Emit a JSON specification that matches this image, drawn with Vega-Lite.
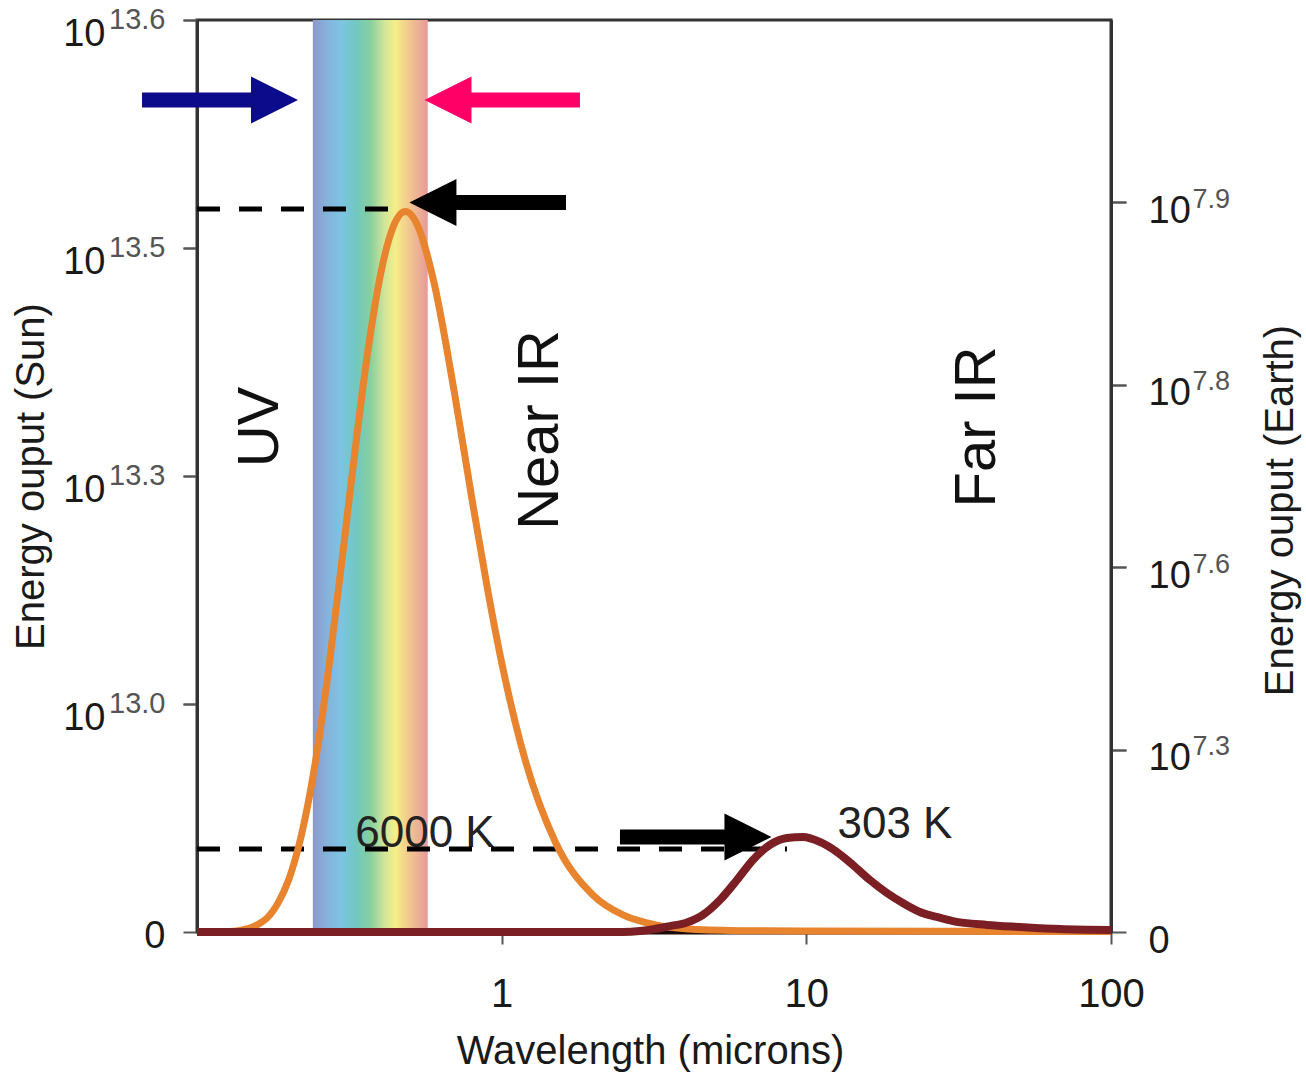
{
  "$schema": "https://vega.github.io/schema/vega-lite/v6.json",
  "width": 914,
  "height": 912,
  "autosize": {"type": "none"},
  "padding": {"left": 197, "top": 20, "right": 195, "bottom": 141},
  "background": "white",
  "config": {
    "font": "Liberation Sans",
    "view": {"stroke": "#333333", "strokeWidth": 3},
    "axis": {"grid": false, "labelFont": "Liberation Sans", "titleFont": "Liberation Sans", "titleFontWeight": "normal", "domainColor": "#333333", "domainWidth": 3, "tickColor": "#555555", "tickWidth": 2, "labelColor": "#1a1a1a", "titleColor": "#1a1a1a"}
  },
  "datasets": {
    "band": [{"name": "visible", "start": 0.24, "end": 0.572}],
    "sun": [
      {"wl": 0.1, "e": 0}, {"wl": 0.12, "e": 0.001}, {"wl": 0.135, "e": 0.005}, {"wl": 0.15, "e": 0.018},
      {"wl": 0.16, "e": 0.036}, {"wl": 0.17, "e": 0.062}, {"wl": 0.185, "e": 0.13}, {"wl": 0.2, "e": 0.229},
      {"wl": 0.22, "e": 0.423}, {"wl": 0.235, "e": 0.61}, {"wl": 0.25, "e": 0.826}, {"wl": 0.27, "e": 1.146},
      {"wl": 0.3, "e": 1.646}, {"wl": 0.33, "e": 2.109}, {"wl": 0.35, "e": 2.385}, {"wl": 0.38, "e": 2.714},
      {"wl": 0.4, "e": 2.882}, {"wl": 0.44, "e": 3.091}, {"wl": 0.483, "e": 3.16}, {"wl": 0.53, "e": 3.099},
      {"wl": 0.6, "e": 2.847}, {"wl": 0.7, "e": 2.364}, {"wl": 0.8, "e": 1.894}, {"wl": 0.9, "e": 1.499},
      {"wl": 1.0, "e": 1.182}, {"wl": 1.2, "e": 0.745}, {"wl": 1.5, "e": 0.395}, {"wl": 2.0, "e": 0.16},
      {"wl": 2.5, "e": 0.075}, {"wl": 3.0, "e": 0.04}, {"wl": 4.0, "e": 0.014}, {"wl": 6.0, "e": 0.006},
      {"wl": 10, "e": 0.004}, {"wl": 30, "e": 0.003}, {"wl": 100, "e": 0.002}
    ],
    "earth": [
      {"wl": 0.1, "e": 0}, {"wl": 1.0, "e": 0}, {"wl": 2.5, "e": 0}, {"wl": 2.844, "e": 0.004},
      {"wl": 3.185, "e": 0.013}, {"wl": 3.567, "e": 0.026}, {"wl": 4.056, "e": 0.042}, {"wl": 4.577, "e": 0.075},
      {"wl": 5.204, "e": 0.14}, {"wl": 5.918, "e": 0.228}, {"wl": 6.678, "e": 0.316}, {"wl": 7.594, "e": 0.382},
      {"wl": 8.637, "e": 0.412}, {"wl": 9.745, "e": 0.417}, {"wl": 11.08, "e": 0.395}, {"wl": 12.6, "e": 0.351},
      {"wl": 14.22, "e": 0.294}, {"wl": 16.17, "e": 0.228}, {"wl": 18.39, "e": 0.171}, {"wl": 20.75, "e": 0.127},
      {"wl": 23.59, "e": 0.088}, {"wl": 26.83, "e": 0.066}, {"wl": 30.28, "e": 0.048}, {"wl": 39.15, "e": 0.031},
      {"wl": 50.2, "e": 0.022}, {"wl": 68, "e": 0.013}, {"wl": 100, "e": 0.009}
    ],
    "dashes": [
      {"name": "sun peak", "x1": 0.1, "x2": 0.4817, "y": 3.171},
      {"name": "earth peak", "x1": 0.1, "x2": 8.637, "y": 0.364}
    ],
    "shafts": [
      {"marker": "blue", "x1": 0.066, "x2": 0.1516, "y": 3.649},
      {"marker": "pink", "x1": 0.787, "x2": 1.807, "y": 3.649},
      {"marker": "black", "x1": 0.7026, "x2": 1.626, "y": 3.2},
      {"marker": "black", "x1": 2.445, "x2": 5.446, "y": 0.417}
    ],
    "heads": [
      {"marker": "blue", "dir": "right", "x": 0.1796, "y": 3.649},
      {"marker": "pink", "dir": "left", "x": 0.6665, "y": 3.649},
      {"marker": "black", "dir": "left", "x": 0.5949, "y": 3.2},
      {"marker": "black", "dir": "right", "x": 6.433, "y": 0.417}
    ],
    "regions": [
      {"label": "UV", "x": 0.1844, "y": 2.215},
      {"label": "Near IR", "x": 1.531, "y": 2.202},
      {"label": "Far IR", "x": 41.6, "y": 2.215}
    ],
    "temps": [
      {"label": "6000 K", "x": 0.56, "y": 0.373},
      {"label": "303 K", "x": 19.54, "y": 0.412}
    ],
    "axisref": [{"v": 0}, {"v": 4}],
    "xref": [{"w": 1}, {"w": 100}]
  },
  "layer": [
    {
      "data": {"name": "band"},
      "mark": {"type": "rect", "color": {"gradient": "linear", "x1": 0, "y1": 0, "x2": 1, "y2": 0, "stops": [
        {"offset": 0, "color": "#8d97c9"}, {"offset": 0.12, "color": "#86b2dc"}, {"offset": 0.25, "color": "#7cc4e2"},
        {"offset": 0.38, "color": "#70c8c0"}, {"offset": 0.5, "color": "#86cf9e"}, {"offset": 0.62, "color": "#cfe59a"},
        {"offset": 0.72, "color": "#f6ee88"}, {"offset": 0.86, "color": "#f0c090"}, {"offset": 1, "color": "#e79a9a"}]}},
      "encoding": {
        "x": {"field": "start", "type": "quantitative", "scale": {"type": "log", "domain": [0.1, 100]}, "axis": null},
        "x2": {"field": "end"}
      }
    },
    {
      "data": {"name": "temps"},
      "mark": {"type": "text", "fontSize": 44, "color": "#222222", "align": "center", "baseline": "alphabetic"},
      "encoding": {
        "x": {"field": "x", "type": "quantitative", "axis": null},
        "y": {"field": "y", "type": "quantitative", "axis": null},
        "text": {"field": "label"}
      }
    },
    {
      "data": {"name": "dashes"},
      "mark": {"type": "rule", "color": "#000000", "strokeWidth": 5, "strokeDash": [23, 19]},
      "encoding": {
        "x": {"field": "x1", "type": "quantitative", "axis": null},
        "x2": {"field": "x2"},
        "y": {"field": "y", "type": "quantitative", "axis": null}
      }
    },
    {
      "data": {"name": "sun"},
      "mark": {"type": "line", "color": "#e8832e", "strokeWidth": 7, "interpolate": "monotone"},
      "encoding": {
        "x": {"field": "wl", "type": "quantitative", "axis": null},
        "y": {"field": "e", "type": "quantitative", "axis": null}
      }
    },
    {
      "data": {"name": "earth"},
      "mark": {"type": "line", "color": "#7b1f24", "strokeWidth": 8, "interpolate": "monotone"},
      "encoding": {
        "x": {"field": "wl", "type": "quantitative", "axis": null},
        "y": {"field": "e", "type": "quantitative", "axis": null}
      }
    },
    {
      "data": {"name": "shafts"},
      "mark": {"type": "rule", "strokeWidth": 15, "strokeCap": "butt"},
      "encoding": {
        "x": {"field": "x1", "type": "quantitative", "axis": null},
        "x2": {"field": "x2"},
        "y": {"field": "y", "type": "quantitative", "axis": null},
        "color": {"field": "marker", "type": "nominal", "scale": {"domain": ["blue", "pink", "black"], "range": ["#0b0b8c", "#ff0066", "#000000"]}, "legend": null}
      }
    },
    {
      "data": {"name": "heads"},
      "mark": {"type": "point", "filled": true, "opacity": 1, "size": 2209, "strokeWidth": 0},
      "encoding": {
        "x": {"field": "x", "type": "quantitative", "axis": null},
        "y": {"field": "y", "type": "quantitative", "axis": null},
        "color": {"field": "marker", "type": "nominal", "legend": null},
        "shape": {"field": "dir", "type": "nominal", "scale": {"domain": ["right", "left"], "range": ["M-1,-1L1,0L-1,1Z", "M1,-1L-1,0L1,1Z"]}, "legend": null}
      }
    },
    {
      "data": {"name": "regions"},
      "mark": {"type": "text", "fontSize": 58, "angle": 270, "color": "#111111", "align": "center", "baseline": "alphabetic"},
      "encoding": {
        "x": {"field": "x", "type": "quantitative", "axis": null},
        "y": {"field": "y", "type": "quantitative", "axis": null},
        "text": {"field": "label"}
      }
    },
    {
      "data": {"name": "xref"},
      "mark": {"type": "rule", "opacity": 0},
      "encoding": {
        "x": {"field": "w", "type": "quantitative",
          "axis": {"orient": "bottom", "values": [1, 10, 100], "labelExpr": "format(datum.value, 'd')", "labelFlush": false, "labelOverlap": false, "labelFontSize": 40, "labelPadding": 30,
            "tickSize": 12, "domainColor": "#1a0a0a", "domainWidth": 4,
            "title": "Wavelength (microns)", "titleFontSize": 40, "titleX": 453, "titleY": 131, "titleAlign": "center", "titleBaseline": "alphabetic"}}
      }
    },
    {
      "data": {"name": "axisref"},
      "mark": {"type": "rule", "opacity": 0},
      "encoding": {
        "y": {"field": "v", "type": "quantitative", "scale": {"domain": [0, 4], "nice": false},
          "axis": {"orient": "left", "values": [1, 2, 3, 4], "labelExpr": "'10'", "labelFontSize": 38, "labelPadding": 78, "labelOffset": 14, "tickSize": 14,
            "title": "Energy ouput (Sun)", "titleFontSize": 40, "titleAngle": 270, "titleX": -154, "titleY": 456, "titleAlign": "center", "titleBaseline": "alphabetic"}}
      }
    },
    {
      "data": {"name": "axisref"},
      "mark": {"type": "rule", "opacity": 0},
      "encoding": {
        "y": {"field": "v", "type": "quantitative",
          "axis": {"orient": "left", "values": [0, 1, 2, 3, 4], "labelExpr": "['0','13.0','13.3','13.5','13.6'][datum.value]",
            "labelFontSize": {"condition": {"test": "datum.value == 0", "value": 38}, "value": 29},
            "labelColor": {"condition": {"test": "datum.value == 0", "value": "#1a1a1a"}, "value": "#555555"},
            "labelOffset": {"condition": {"test": "datum.value == 0", "value": 4}, "value": -1},
            "labelPadding": 18, "tickSize": 14, "title": null}}
      }
    },
    {
      "data": {"name": "axisref"},
      "mark": {"type": "rule", "opacity": 0},
      "encoding": {
        "y": {"field": "v", "type": "quantitative",
          "axis": {"orient": "right", "values": [0, 0.8, 1.6, 2.4, 3.2], "labelExpr": "datum.value == 0 ? '0' : '10'", "labelFontSize": 38, "labelPadding": 22, "labelOffset": 9, "tickSize": 15,
            "title": "Energy ouput (Earth)", "titleFontSize": 40, "titleAngle": 270, "titleX": 181, "titleY": 490, "titleAlign": "center", "titleBaseline": "alphabetic"}}
      }
    },
    {
      "data": {"name": "axisref"},
      "mark": {"type": "rule", "opacity": 0},
      "encoding": {
        "y": {"field": "v", "type": "quantitative",
          "axis": {"orient": "right", "values": [0.8, 1.6, 2.4, 3.2], "labelExpr": "datum.value < 1 ? '7.3' : datum.value < 2 ? '7.6' : datum.value < 3 ? '7.8' : '7.9'",
            "labelFontSize": 27, "labelColor": "#555555", "labelPadding": 66, "labelOffset": -3, "tickSize": 15, "title": null}}
      }
    }
  ],
  "resolve": {"axis": {"x": "independent", "y": "independent"}}
}
